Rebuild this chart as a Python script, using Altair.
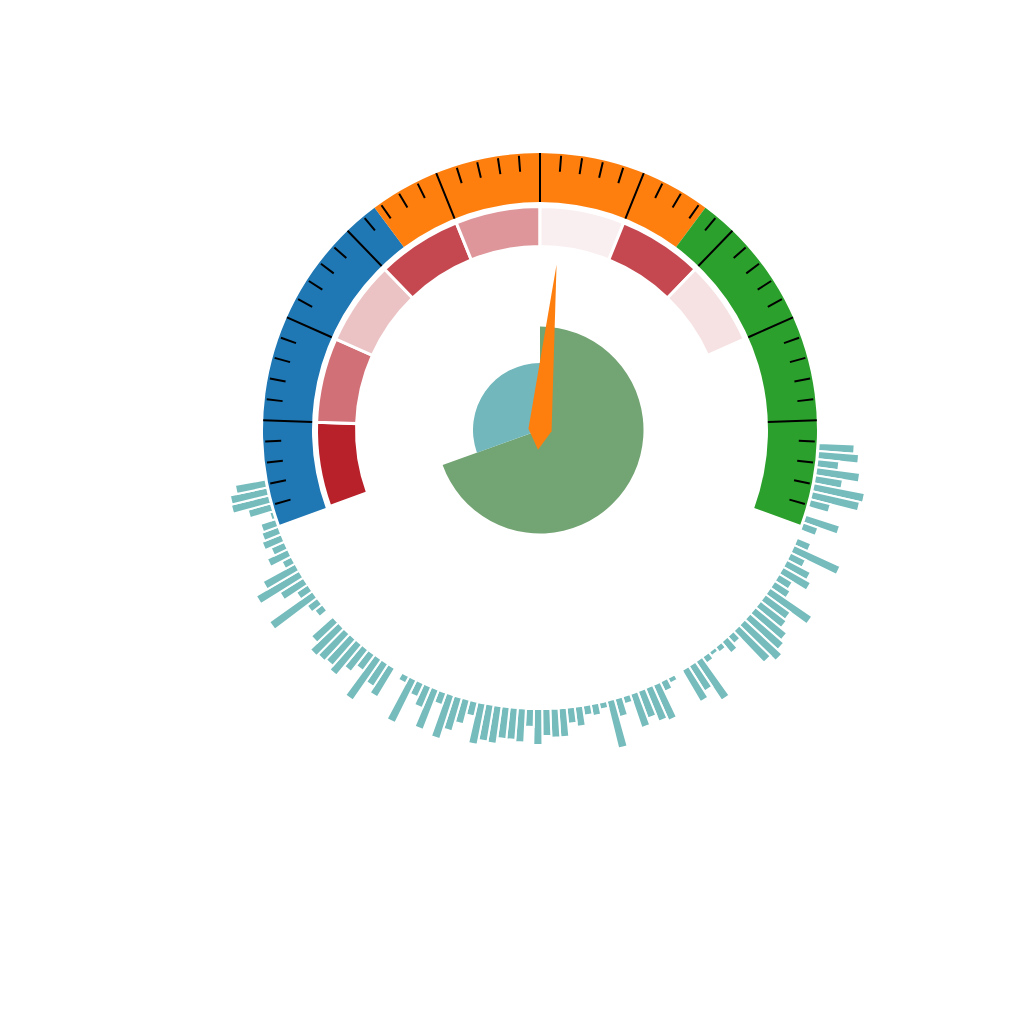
import math
import altair as alt
import pandas as pd

# ---------------- data ----------------
band_names = ["low", "mid", "high"]
band_starts = [0, 100 / 3, 200 / 3]
band_ends = [100 / 3, 200 / 3, 100]
band_colors = ["#1f77b4", "#ff7f0e", "#2ca02c"]

major_ticks = [10, 20, 30, 40, 50, 60, 70, 80, 90]
minor_ticks = [v for v in range(2, 100, 2) if v % 10 != 0]

seg_starts = [0, 10, 20, 30, 40, 50, 60, 70]
seg_ends = [10, 20, 30, 40, 50, 60, 70, 80]
seg_levels = [1.0, 0.64, 0.27, 0.82, 0.47, 0.07, 0.82, 0.13]

needle_value = [52.6]

pie_names = ["A", "B"]
pie_values = [69.5, 30.5]

bar_values = [
    36, 41, 22, 44, 28, 52, 49, 21, 2, 36,
    16, 2, 15, 51, 17, 27, 32, 16, 19, 51,
    31, 33, 41, 45, 51, 44, 10, 15, 7, 5,
    8, 47, 30, 37, 2, 6, 11, 39, 36, 29,
    36, 8, 19, 49, 7, 12, 10, 20, 16, 29,
    29, 27, 36, 18, 34, 32, 32, 38, 37, 42,
    15, 25, 35, 46, 13, 43, 23, 15, 48, 8,
    2, 34, 27, 50, 20, 28, 40, 35, 37, 39,
    29, 2, 10, 13, 53, 14, 28, 50, 37, 11,
    23, 15, 21, 18, 16, 4, 24, 39, 38, 31,
]

# ---------------- layout ----------------
W, H = 960, 840
R_OUT, R_IN = 277, 228

gauge_theta = alt.Scale(domain=[0, 100], range=[math.radians(250), math.radians(470)])

ring = alt.Chart(pd.DataFrame({"band": band_names, "s": band_starts, "e": band_ends})).mark_arc(
    radius=R_OUT, radius2=R_IN
).encode(
    theta=alt.Theta("s:Q", scale=gauge_theta),
    theta2="e:Q",
    color=alt.Color("band:N", scale=alt.Scale(domain=band_names, range=band_colors), legend=None),
)

major = alt.Chart(pd.DataFrame({"v": major_ticks})).mark_arc(
    radius=R_OUT, radius2=R_IN, stroke="black", strokeWidth=2, fillOpacity=0
).encode(theta=alt.Theta("v:Q", scale=gauge_theta), theta2="v:Q")

minor = alt.Chart(pd.DataFrame({"v": minor_ticks})).mark_arc(
    radius=275, radius2=259, stroke="black", strokeWidth=2, fillOpacity=0
).encode(theta=alt.Theta("v:Q", scale=gauge_theta), theta2="v:Q")

inner = alt.Chart(pd.DataFrame({"s": seg_starts, "e": seg_ends, "lvl": seg_levels})).mark_arc(
    radius=223.5, radius2=183.5, stroke="white", strokeWidth=3
).encode(
    theta=alt.Theta("s:Q", scale=gauge_theta),
    theta2="e:Q",
    color=alt.Color("lvl:Q", scale=alt.Scale(domain=[0, 1], range=["#ffffff", "#b8202a"],
                                             interpolate="rgb"), legend=None),
)

bars = alt.Chart(pd.DataFrame({"i": list(range(len(bar_values))), "v": bar_values})).transform_calculate(
    a="datum.i - 0.5", b="datum.i + 0.5"
).mark_arc(radius2=279, stroke="white", strokeWidth=2, color="#76bcbd").encode(
    theta=alt.Theta("a:Q", scale=alt.Scale(domain=[-0.5, 99.5],
                                           range=[math.radians(92.66), math.radians(259.76)])),
    theta2="b:Q",
    radius=alt.Radius("v:Q", scale=alt.Scale(type="linear", domain=[0, 60], range=[279, 339], zero=False)),
)

pie = alt.Chart(pd.DataFrame({"name": pie_names, "v": pie_values, "k": [0, 1]})).mark_arc(radius2=0).encode(
    theta=alt.Theta("v:Q", stack=True),
    radius=alt.Radius("v:Q", scale=alt.Scale(type="linear", domain=[30.5, 69.5], range=[67, 103.5], zero=False)),
    color=alt.Color("name:N", scale=alt.Scale(domain=pie_names, range=["#73a473", "#72b7bb"]), legend=None),
    order=alt.Order("k:Q"),
)

needle = alt.Chart(pd.DataFrame({"v": needle_value})).transform_calculate(
    ang="(datum.v * 2.2 + 250) % 360"
).mark_point(
    shape="M0,-1L0.07,0L0,0.12L-0.07,0Z", size=(2 * 166) ** 2, filled=True,
    color="#ff7f0e", opacity=1, strokeWidth=0
).encode(x=alt.value(W / 2), y=alt.value(H / 2), angle=alt.Angle("ang:Q", scale=None))

chart = alt.layer(ring, major, minor, inner, bars, pie, needle).resolve_scale(
    theta="independent", radius="independent", color="independent"
).properties(
    width=W, height=H,
    padding={"left": 60, "top": 10, "right": 0, "bottom": 0},
    autosize=alt.AutoSizeParams(type="none"),
).configure_view(stroke=None)

chart.save("out.html", embed_options={"renderer": "svg", "actions": False})
